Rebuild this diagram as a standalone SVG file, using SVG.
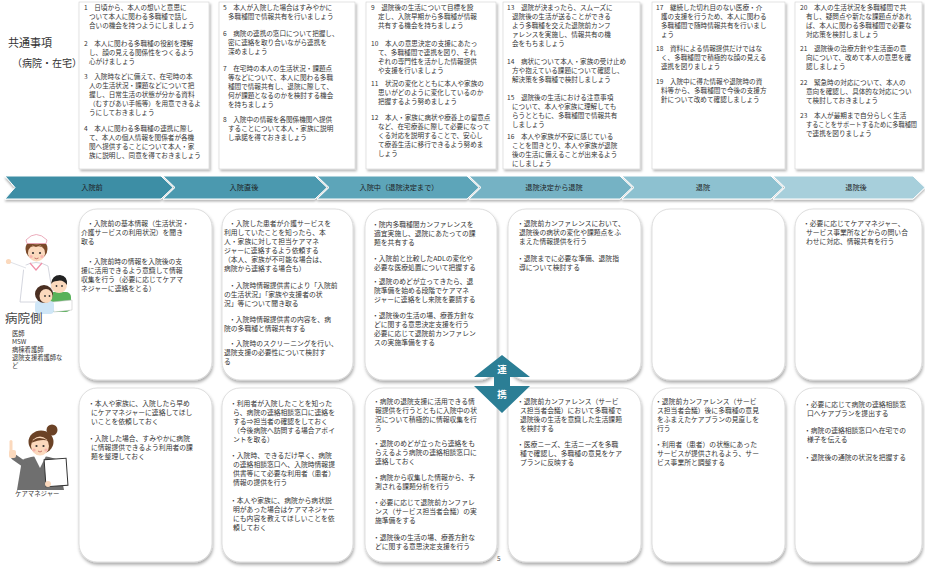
<svg xmlns="http://www.w3.org/2000/svg" width="925" height="576" viewBox="0 0 925 576">
  <defs>
    <style>
      .jp { font-family: "Noto Sans CJK JP", "Noto Sans", sans-serif; fill: #333; }
      .tip { font-size: 6.6px; }
      .card { font-size: 6.8px; }
      .note { fill: #fff; stroke: #cfcfcf; stroke-width: 0.6; filter: url(#noteShadow); }
      .panel { fill: #fff; stroke: #d0d0d0; stroke-width: 0.7; filter: url(#panelShadow); }
      .phase-label { font-size: 7.2px; fill: #1d1d1d; text-anchor: middle; }
      .chev { stroke: #fff; stroke-width: 1; }
      .skin { fill: #fbd9bd; }
      .staff { font-size: 6.3px; }
    </style>
    <filter id="noteShadow" x="-5%" y="-5%" width="115%" height="115%">
      <feDropShadow dx="1.5" dy="2" stdDeviation="1.2" flood-color="#000" flood-opacity="0.28"/>
    </filter>
    <filter id="panelShadow" x="-5%" y="-5%" width="115%" height="115%">
      <feDropShadow dx="0.8" dy="2.5" stdDeviation="1.5" flood-color="#000" flood-opacity="0.32"/>
    </filter>
    <filter id="bandShadow" x="-2%" y="-20%" width="104%" height="160%">
      <feDropShadow dx="0" dy="2" stdDeviation="1.2" flood-color="#000" flood-opacity="0.3"/>
    </filter>
  </defs>

  <rect width="925" height="576" fill="#fff"/>

  <!-- common items heading -->
  <g id="common-heading" class="jp">
    <text x="8" y="47" style="font-size:11px">共通事項</text>
    <text x="12" y="67" style="font-size:10px">（病院・在宅）</text>
  </g>

  <!-- common items, six notes -->
  <g id="common-1">
    <rect class="note" x="79" y="2" width="130" height="167"/>
    <text class="jp tip">
      <tspan x="84" y="10">1　日頃から、本人の想いと意思に</tspan>
      <tspan x="89" y="19">ついて本人に関わる多職種で話し</tspan>
      <tspan x="89" y="28">合いの機会を持つようにしましょう</tspan>
      <tspan x="84" y="45.5">2　本人に関わる多職種の役割を理解</tspan>
      <tspan x="89" y="54.5">し、顔の見える関係性をつくるよう</tspan>
      <tspan x="89" y="63.5">心がけましょう</tspan>
      <tspan x="84" y="78.5">3　入院時などに備えて、在宅時の本</tspan>
      <tspan x="89" y="87.5">人の生活状況・課題などについて把</tspan>
      <tspan x="89" y="96.5">握し、日常生活の状態が分かる資料</tspan>
      <tspan x="89" y="105.5">（むすびあい手帳等）を用意できるよ</tspan>
      <tspan x="89" y="114.5">うにしておきましょう</tspan>
      <tspan x="84" y="130.5">4　本人に関わる多職種の連携に際し</tspan>
      <tspan x="89" y="139.5">て、本人の個人情報を関係者が各機</tspan>
      <tspan x="89" y="148.5">関へ提供することについて本人・家</tspan>
      <tspan x="89" y="157.5">族に説明し、同意を得ておきましょう</tspan>
    </text>
  </g>
  <g id="common-2">
    <rect class="note" x="219" y="2" width="136" height="167"/>
    <text class="jp tip">
      <tspan x="223" y="10">5　本人が入院した場合はすみやかに</tspan>
      <tspan x="228" y="19">多職種間で情報共有を行いましょう</tspan>
      <tspan x="223" y="35.5">6　病院の連携の窓口について把握し、</tspan>
      <tspan x="228" y="44.5">密に連絡を取り合いながら連携を</tspan>
      <tspan x="228" y="53.5">深めましょう</tspan>
      <tspan x="223" y="70.5">7　在宅時の本人の生活状況・課題点</tspan>
      <tspan x="228" y="79.5">等などについて、本人に関わる多職</tspan>
      <tspan x="228" y="88.5">種間で情報共有し、退院に際して、</tspan>
      <tspan x="228" y="97.5">何が課題となるのかを検討する機会</tspan>
      <tspan x="228" y="106.5">を持ちましょう</tspan>
      <tspan x="223" y="121.5">8　入院中の情報を各関係機関へ提供</tspan>
      <tspan x="228" y="130.5">することについて本人・家族に説明</tspan>
      <tspan x="228" y="139.5">し承諾を得ておきましょう</tspan>
    </text>
  </g>
  <g id="common-3">
    <rect class="note" x="366" y="2" width="130" height="167"/>
    <text class="jp tip">
      <tspan x="371" y="10">9　退院後の生活について目標を設</tspan>
      <tspan x="378" y="19">定し、入院早期から多職種が情報</tspan>
      <tspan x="378" y="28">共有する機会を持ちましょう</tspan>
      <tspan x="371" y="45.5">10　本人の意思決定の支援にあたっ</tspan>
      <tspan x="378" y="54.5">て、多職種間で連携を図り、それ</tspan>
      <tspan x="378" y="63.5">ぞれの専門性を活かした情報提供</tspan>
      <tspan x="378" y="72.5">や支援を行いましょう</tspan>
      <tspan x="371" y="85.5">11　状況の変化とともに本人や家族の</tspan>
      <tspan x="378" y="94.5">思いがどのように変化しているのか</tspan>
      <tspan x="378" y="103.5">把握するよう努めましょう</tspan>
      <tspan x="371" y="119.5">12　本人・家族に病状や療養上の留意点</tspan>
      <tspan x="378" y="128.5">など、在宅療養に際して必要になって</tspan>
      <tspan x="378" y="137.5">くる対応を説明することで、安心し</tspan>
      <tspan x="378" y="146.5">て療養生活に移行できるよう努めま</tspan>
      <tspan x="378" y="155.5">しょう</tspan>
    </text>
  </g>
  <g id="common-4">
    <rect class="note" x="503" y="2" width="137" height="167"/>
    <text class="jp tip">
      <tspan x="507" y="10">13　退院が決まったら、スムーズに</tspan>
      <tspan x="512" y="19">退院後の生活が送ることができる</tspan>
      <tspan x="512" y="28">よう多職種を交えた退院前カンフ</tspan>
      <tspan x="512" y="37">ァレンスを実施し、情報共有の機</tspan>
      <tspan x="512" y="46">会をもちましょう</tspan>
      <tspan x="507" y="63.5">14　病状について本人・家族の受け止め</tspan>
      <tspan x="512" y="72.5">方や抱えている課題について確認し、</tspan>
      <tspan x="512" y="81.5">解決策を多職種で検討しましょう</tspan>
      <tspan x="507" y="100">15　退院後の生活における注意事項</tspan>
      <tspan x="512" y="109">について、本人や家族に理解しても</tspan>
      <tspan x="512" y="118">らうとともに、多職種間で情報共有</tspan>
      <tspan x="512" y="127">しましょう</tspan>
      <tspan x="507" y="139">16　本人や家族が不安に感じている</tspan>
      <tspan x="512" y="148">ことを聞きとり、本人や家族が退院</tspan>
      <tspan x="512" y="157">後の生活に備えることが出来るよう</tspan>
      <tspan x="512" y="166">にしましょう</tspan>
    </text>
  </g>
  <g id="common-5">
    <rect class="note" x="652" y="2" width="133" height="167"/>
    <text class="jp tip">
      <tspan x="656" y="10">17　継続した切れ目のない医療・介</tspan>
      <tspan x="661" y="19">護の支援を行うため、本人に関わる</tspan>
      <tspan x="661" y="28">多職種間で随時情報共有を行いまし</tspan>
      <tspan x="661" y="37">ょう</tspan>
      <tspan x="656" y="51">18　資料による情報提供だけではな</tspan>
      <tspan x="661" y="60">く、多職種間で積極的な顔の見える</tspan>
      <tspan x="661" y="69">連携を図りましょう</tspan>
      <tspan x="656" y="84">19　入院中に得た情報や退院時の資</tspan>
      <tspan x="661" y="93">料等から、多職種間で今後の支援方</tspan>
      <tspan x="661" y="102">針について改めて確認しましょう</tspan>
    </text>
  </g>
  <g id="common-6">
    <rect class="note" x="795" y="2" width="127" height="167"/>
    <text class="jp tip">
      <tspan x="800" y="10">20　本人の生活状況を多職種間で共</tspan>
      <tspan x="806" y="19">有し、疑問点や新たな課題点があれ</tspan>
      <tspan x="806" y="28">ば、本人に関わる多職種間で必要な</tspan>
      <tspan x="806" y="37">対応策を検討しましょう</tspan>
      <tspan x="800" y="51">21　退院後の治療方針や生活面の意</tspan>
      <tspan x="806" y="60">向について、改めて本人の意思を確</tspan>
      <tspan x="806" y="69">認しましょう</tspan>
      <tspan x="800" y="85">22　緊急時の対応について、本人の</tspan>
      <tspan x="806" y="94">意向を確認し、具体的な対応につい</tspan>
      <tspan x="806" y="103">て検討しておきましょう</tspan>
      <tspan x="800" y="118">23　本人が最期まで自分らしく生活</tspan>
      <tspan x="806" y="127" textLength="111" lengthAdjust="spacingAndGlyphs">することをサポートするために多職種間</tspan>
      <tspan x="806" y="136">で連携を図りましょう</tspan>
    </text>
  </g>

  <!-- phase band -->
  <g id="phases" filter="url(#bandShadow)">
    <polygon class="chev" fill="#3d8ea5" points="5,176 161,176 173,187.5 161,199 5,199 15,187.5"/>
    <polygon class="chev" fill="#4b99af" points="163,176 315,176 327,187.5 315,199 163,199 175,187.5"/>
    <polygon class="chev" fill="#5da5b9" points="317,176 467,176 479,187.5 467,199 317,199 329,187.5"/>
    <polygon class="chev" fill="#74b2c4" points="469,176 620,176 632,187.5 620,199 469,199 481,187.5"/>
    <polygon class="chev" fill="#8dc1d0" points="622,176 771,176 783,187.5 771,199 622,199 634,187.5"/>
    <polygon class="chev" fill="#a7cfdb" points="773,176 913,176 925,187.5 913,199 773,199 785,187.5"/>
  </g>
  <g id="phase-labels" class="jp phase-label">
    <text x="92" y="190">入院前</text>
    <text x="244" y="190">入院直後</text>
    <text x="399" y="190">入院中（退院決定まで）</text>
    <text x="554" y="190">退院決定から退院</text>
    <text x="703" y="190">退院</text>
    <text x="856" y="190">退院後</text>
  </g>

  <!-- hospital side: figure and labels -->
  <g id="hospital-figure">
    <!-- nurse -->
    <path d="M24,266 Q36,259 48,266 L54,302 L20,302 Z" fill="#fff" stroke="#c9ccd6" stroke-width="0.8"/>
    <path d="M30,263 L36,270 L42,263" fill="none" stroke="#f08fa8" stroke-width="1.2"/>
    <path d="M26,268 L10,262" stroke="#fff" stroke-width="5" stroke-linecap="round"/>
    <path d="M26,268 L10,262" stroke="#c9ccd6" stroke-width="0.6" fill="none"/>
    <circle class="skin" cx="8.5" cy="261.5" r="2.6"/>
    <ellipse cx="36.5" cy="249" rx="11" ry="10.5" fill="#7a4a2a"/>
    <ellipse class="skin" cx="36.5" cy="253" rx="8.5" ry="8.5"/>
    <path d="M28,249 Q36,240 45,249 Q40,245 36,247 Q32,245 28,249 Z" fill="#7a4a2a"/>
    <path d="M26,240 Q36,229 47,240 L46,243.5 L27,243.5 Z" fill="#fff" stroke="#e9a3b4" stroke-width="0.9"/>
    <circle cx="33" cy="253" r="1.1" fill="#333"/>
    <circle cx="40" cy="253" r="1.1" fill="#333"/>
    <circle cx="31" cy="256.5" r="1.6" fill="#f6a9a9" opacity="0.8"/>
    <circle cx="42" cy="256.5" r="1.6" fill="#f6a9a9" opacity="0.8"/>
    <path d="M34.5,258 Q36.5,259.5 38.5,258" stroke="#b04a4a" stroke-width="0.7" fill="none"/>
    <!-- children -->
    <rect x="49" y="292" width="22" height="20" rx="5" fill="#58b25a"/>
    <circle class="skin" cx="59" cy="285" r="8"/>
    <path d="M51,284 Q52,275 60,275 Q68,276 67,285 Q63,279 57,281 Q53,281 51,284 Z" fill="#222"/>
    <circle cx="56.5" cy="286" r="0.9" fill="#333"/>
    <circle cx="62" cy="286" r="0.9" fill="#333"/>
    <path d="M52,302 L72,300 L72,310 L54,312 Z" fill="#fff" stroke="#bbb" stroke-width="0.5"/>
    <rect x="35" y="301" width="19" height="13" rx="4" fill="#cfe6f7"/>
    <ellipse cx="44" cy="294" rx="9" ry="9" fill="#4a2f22"/>
    <ellipse class="skin" cx="46" cy="296" rx="6.5" ry="7"/>
    <circle cx="45" cy="296" r="0.9" fill="#333"/>
    <circle cx="49.5" cy="296" r="0.9" fill="#333"/>
  </g>
  <g id="hospital-label" class="jp">
    <text x="5" y="323" style="font-size:12.5px;fill:#444">病院側</text>
    <text class="staff" x="12" y="336">医師</text>
    <text class="staff" x="12" y="344">MSW</text>
    <text class="staff" x="12" y="352">病棟看護師</text>
    <text class="staff" x="12" y="360">退院支援看護師な</text>
    <text class="staff" x="12" y="368">ど</text>
  </g>

  <!-- hospital side cards -->
  <g id="hospital-pre">
    <rect class="panel" x="79" y="209" width="133" height="171" rx="18"/>
    <text class="jp card">
      <tspan x="87" y="225.5">・入院前の基本情報（生活状況・</tspan>
      <tspan x="81" y="234.5">介護サービスの利用状況）を聞き</tspan>
      <tspan x="81" y="243.5">取る</tspan>
      <tspan x="87" y="263.5">・入院前時の情報を入院後の支</tspan>
      <tspan x="81" y="272.5">援に活用できるよう意識して情報</tspan>
      <tspan x="81" y="281.5">収集を行う（必要に応じてケアマ</tspan>
      <tspan x="81" y="290.5">ネジャーに連絡をとる）</tspan>
    </text>
  </g>
  <g id="hospital-admission">
    <rect class="panel" x="222" y="209" width="131" height="171" rx="18"/>
    <text class="jp card">
      <tspan x="229" y="225.5">・入院した患者が介護サービスを</tspan>
      <tspan x="224" y="234.5">利用していたことを知ったら、本</tspan>
      <tspan x="224" y="243.5">人・家族に対して担当ケアマネ</tspan>
      <tspan x="224" y="252.5">ジャーに連絡するよう依頼する</tspan>
      <tspan x="224" y="262">（本人、家族が不可能な場合は、</tspan>
      <tspan x="224" y="271">病院から連絡する場合も）</tspan>
      <tspan x="229" y="287.5">・入院時情報提供書により「入院前</tspan>
      <tspan x="224" y="296.5">の生活状況」「家族や支援者の状</tspan>
      <tspan x="224" y="305.5">況」等について聞き取る</tspan>
      <tspan x="229" y="321.5">・入院時情報提供書の内容を、病</tspan>
      <tspan x="224" y="330.5">院の多職種と情報共有する</tspan>
      <tspan x="229" y="346">・入院時のスクリーニングを行い、</tspan>
      <tspan x="224" y="355">退院支援の必要性について検討す</tspan>
      <tspan x="224" y="364">る</tspan>
    </text>
  </g>
  <g id="hospital-stay">
    <rect class="panel" x="365" y="209" width="132" height="171" rx="18"/>
    <text class="jp card">
      <tspan x="372" y="226.5">・院内多職種間カンファレンスを</tspan>
      <tspan x="374" y="235.5">適宜実施し、退院にあたっての課</tspan>
      <tspan x="374" y="244.5">題を共有する</tspan>
      <tspan x="372" y="260.5">・入院前と比較したADLの変化や</tspan>
      <tspan x="374" y="269.5">必要な医療処置について把握する</tspan>
      <tspan x="372" y="283.5">・退院のめどが立ってきたら、退</tspan>
      <tspan x="374" y="292.5">院準備を始める段階でケアマネ</tspan>
      <tspan x="374" y="301.5">ジャーに連絡をし来院を要請する</tspan>
      <tspan x="372" y="317.5">・退院後の生活の場、療養方針な</tspan>
      <tspan x="374" y="326.5">どに関する意思決定支援を行う</tspan>
      <tspan x="374" y="335.5">必要に応じて退院前カンファレン</tspan>
      <tspan x="374" y="344.5">スの実施準備をする</tspan>
    </text>
  </g>
  <g id="hospital-decision">
    <rect class="panel" x="508" y="209" width="133" height="171" rx="18"/>
    <text class="jp card">
      <tspan x="517" y="225.5">・退院前カンファレンスにおいて、</tspan>
      <tspan x="519" y="234.5">退院後の病状の変化や課題点をふ</tspan>
      <tspan x="519" y="243.5">まえた情報提供を行う</tspan>
      <tspan x="517" y="260.5">・退院までに必要な準備、退院指</tspan>
      <tspan x="519" y="269.5">導について検討する</tspan>
    </text>
  </g>
  <g id="hospital-discharge">
    <rect class="panel" x="652" y="209" width="133" height="171" rx="18"/>
  </g>
  <g id="hospital-after">
    <rect class="panel" x="795" y="209" width="127" height="171" rx="18"/>
    <text class="jp card">
      <tspan x="803" y="225.5">・必要に応じてケアマネジャー、</tspan>
      <tspan x="806" y="234.5">サービス事業所などからの問い合</tspan>
      <tspan x="806" y="243.5">わせに対応、情報共有を行う</tspan>
    </text>
  </g>

  <!-- care manager: figure and label -->
  <g id="caremanager-figure">
    <path d="M22,460 Q40,452 58,460 L64,490 L17,490 Z" fill="#6f6f6f"/>
    <path d="M34,456 L40,468 L46,456 Z" fill="#fff"/>
    <path d="M24,464 L14,457" stroke="#6f6f6f" stroke-width="6" stroke-linecap="round"/>
    <rect class="skin" x="9" y="450" width="7" height="8" rx="2"/>
    <rect class="skin" x="9.5" y="440" width="3" height="12" rx="1.5"/>
    <circle cx="52" cy="430" r="5.5" fill="#6b4226"/>
    <ellipse cx="41" cy="442" rx="12.5" ry="11.5" fill="#6b4226"/>
    <ellipse class="skin" cx="40" cy="446" rx="9" ry="9.5"/>
    <path d="M31,443 Q37,434 49,441 Q42,438 31,443 Z" fill="#6b4226"/>
    <circle cx="36.5" cy="446" r="1.1" fill="#333"/>
    <circle cx="43.5" cy="446" r="1.1" fill="#333"/>
    <circle cx="34" cy="450" r="1.6" fill="#f6a9a9" opacity="0.8"/>
    <circle cx="46" cy="450" r="1.6" fill="#f6a9a9" opacity="0.8"/>
    <path d="M38,451 Q40,453 42,451" stroke="#b04a4a" stroke-width="0.7" fill="none"/>
    <rect x="45" y="459" width="22" height="27" fill="#fff" stroke="#333" stroke-width="1" transform="rotate(-4 56 472)"/>
    <circle class="skin" cx="48" cy="484" r="3"/>
  </g>
  <g id="caremanager-label" class="jp">
    <text x="15" y="495.5" style="font-size:6.4px">ケアマネジャー</text>
  </g>

  <!-- care manager cards -->
  <g id="cm-pre">
    <rect class="panel" x="79" y="388" width="133" height="174" rx="18"/>
    <text class="jp card">
      <tspan x="88" y="405.5">・本人や家族に、入院したら早め</tspan>
      <tspan x="91" y="414.5">にケアマネジャーに連絡してほし</tspan>
      <tspan x="91" y="423.5">いことを依頼しておく</tspan>
      <tspan x="88" y="440.5">・入院した場合、すみやかに病院</tspan>
      <tspan x="91" y="449.5">に情報提供できるよう利用者の課</tspan>
      <tspan x="91" y="458.5">題を整理しておく</tspan>
    </text>
  </g>
  <g id="cm-admission">
    <rect class="panel" x="222" y="388" width="131" height="174" rx="18"/>
    <text class="jp card">
      <tspan x="230" y="405.5">・利用者が入院したことを知った</tspan>
      <tspan x="233" y="414.5">ら、病院の連絡相談窓口に連絡を</tspan>
      <tspan x="233" y="423.5">する⇒担当者の確認をしておく</tspan>
      <tspan x="233" y="432.5">（今後病院へ訪問する場合アポイ</tspan>
      <tspan x="233" y="441.5">ントを取る）</tspan>
      <tspan x="230" y="457.5">・入院時、できるだけ早く、病院</tspan>
      <tspan x="233" y="466.5">の連絡相談窓口へ、入院時情報提</tspan>
      <tspan x="233" y="475.5">供書等にて必要な利用者（患者）</tspan>
      <tspan x="233" y="484.5">情報の提供を行う</tspan>
      <tspan x="230" y="502.5">・本人や家族に、病院から病状説</tspan>
      <tspan x="233" y="511.5">明があった場合はケアマネジャー</tspan>
      <tspan x="233" y="520.5">にも内容を教えてほしいことを依</tspan>
      <tspan x="233" y="529.5">頼しておく</tspan>
    </text>
  </g>
  <g id="cm-stay">
    <rect class="panel" x="365" y="388" width="132" height="174" rx="18"/>
    <text class="jp card">
      <tspan x="373" y="403.5">・病院の退院支援に活用できる情</tspan>
      <tspan x="375" y="412.5">報提供を行うとともに入院中の状</tspan>
      <tspan x="375" y="421.5">況について積極的に情報収集を行</tspan>
      <tspan x="375" y="430.5">う</tspan>
      <tspan x="373" y="445.5">・退院のめどが立ったら連絡をも</tspan>
      <tspan x="375" y="454.5">らえるよう病院の連絡相談窓口に</tspan>
      <tspan x="375" y="463.5">連絡しておく</tspan>
      <tspan x="373" y="479.5">・病院から収集した情報から、予</tspan>
      <tspan x="375" y="488.5">測される課題分析を行う</tspan>
      <tspan x="373" y="504.5">・必要に応じて退院前カンファレ</tspan>
      <tspan x="375" y="513.5">ンス（サービス担当者会議）の実</tspan>
      <tspan x="375" y="522.5">施準備をする</tspan>
      <tspan x="373" y="539.5">・退院後の生活の場、療養方針な</tspan>
      <tspan x="375" y="548.5">どに関する意思決定支援を行う</tspan>
    </text>
  </g>
  <g id="cm-decision">
    <rect class="panel" x="508" y="388" width="133" height="174" rx="18"/>
    <text class="jp card">
      <tspan x="517" y="403.5">・退院前カンファレンス（サービ</tspan>
      <tspan x="520" y="412.5">ス担当者会議）において多職種で</tspan>
      <tspan x="520" y="421.5">退院後の生活を意識した生活課題</tspan>
      <tspan x="520" y="430.5">を検討する</tspan>
      <tspan x="517" y="446.5">・医療ニーズ、生活ニーズを多職</tspan>
      <tspan x="520" y="455.5">種で確認し、多職種の意見をケア</tspan>
      <tspan x="520" y="464.5">プランに反映する</tspan>
    </text>
  </g>
  <g id="cm-discharge">
    <rect class="panel" x="652" y="388" width="133" height="174" rx="18"/>
    <text class="jp card">
      <tspan x="655" y="403.5">・退院前カンファレンス（サービ</tspan>
      <tspan x="657" y="412.5">ス担当者会議）後に多職種の意見</tspan>
      <tspan x="657" y="421.5">をふまえたケアプランの見直しを</tspan>
      <tspan x="657" y="430.5">行う</tspan>
      <tspan x="655" y="446.5">・利用者（患者）の状態にあった</tspan>
      <tspan x="657" y="455.5">サービスが提供されるよう、サー</tspan>
      <tspan x="657" y="464.5">ビス事業所と調整する</tspan>
    </text>
  </g>
  <g id="cm-after">
    <rect class="panel" x="795" y="388" width="127" height="174" rx="18"/>
    <text class="jp card">
      <tspan x="804" y="406.5">・必要に応じて病院の連絡相談窓</tspan>
      <tspan x="807" y="415.5">口へケアプランを提出する</tspan>
      <tspan x="804" y="432.5">・病院の連絡相談窓口へ在宅での</tspan>
      <tspan x="807" y="441.5">様子を伝える</tspan>
      <tspan x="804" y="459.5">・退院後の通院の状況を把握する</tspan>
    </text>
  </g>

  <!-- two-way cooperation arrow between the rows -->
  <g id="connectors">
    <polygon points="502,355 530,377 510,377 510,386 530,386 502,413 474,386 494,386 494,377 474,377" fill="#2b7e95"/>
    <text x="502" y="373" class="jp" style="font-size:9.5px;font-weight:bold;fill:#fff;text-anchor:middle">連</text>
    <text x="502" y="398" class="jp" style="font-size:9.5px;font-weight:bold;fill:#fff;text-anchor:middle">携</text>
  </g>

  <text id="page-number" x="497" y="561" class="jp" style="font-size:6.5px;fill:#555">5</text>
</svg>
